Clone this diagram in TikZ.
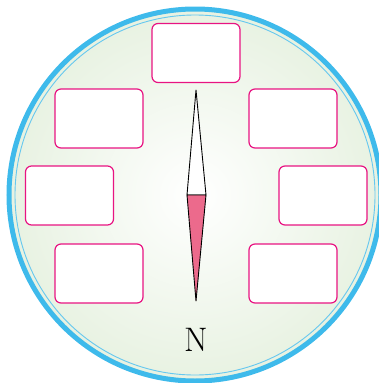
\documentclass[tikz,border=0pt]{standalone}
\definecolor{ringcyan}{RGB}{62,186,235}
\definecolor{boxmag}{RGB}{232,20,130}
\definecolor{needlepink}{RGB}{236,106,140}
\definecolor{dialgreen}{RGB}{232,242,226}
\begin{document}
\begin{tikzpicture}[x=1pt,y=-1pt,
  labelbox/.style={draw=boxmag,line width=1.2pt,fill=white,rounded corners=6pt,minimum width=88pt,minimum height=59pt,inner sep=0pt}]
\useasboundingbox (0,0) rectangle (378,383);
% dial
\fill[dialgreen!70!white] (195,195) circle (184);
\shade[inner color=white,outer color=dialgreen] (195,195) circle (184);
\draw[ringcyan,line width=5pt] (195,195) circle (186);
\draw[ringcyan!80!white,line width=0.9pt] (195,195) circle (180);
% boxes
\node[labelbox] (top) at (196,53) {};
\node[labelbox] (ul) at (99,118.5) {};
\node[labelbox] (ur) at (293,118.5) {};
\node[labelbox] (ml) at (69.5,195.5) {};
\node[labelbox] (mr) at (323,195.5) {};
\node[labelbox] (ll) at (99,273.5) {};
\node[labelbox] (lr) at (293,273.5) {};
% needle
\coordinate (tip) at (196,90);
\coordinate (bl) at (187,195);
\coordinate (br) at (206,195);
\coordinate (bot) at (196,301);
\draw[line width=0.9pt,fill=white,line join=round] (tip) -- (br) -- (bl) -- cycle;
\draw[line width=0.9pt,fill=needlepink,line join=round] (bl) -- (br) -- (bot) -- cycle;
\node (n) at (196,340) {\fontsize{34}{34}\selectfont N};
\end{tikzpicture}
\end{document}
